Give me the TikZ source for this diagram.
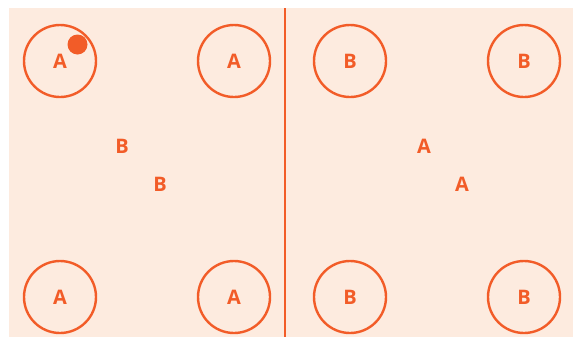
\documentclass[tikz,border=0pt]{standalone}
\usepackage{fontspec}
\setmainfont{Open Sans}
\usetikzlibrary{positioning}
\definecolor{court}{RGB}{253,235,223}
\definecolor{chalk}{RGB}{242,92,40}

\begin{document}
\begin{tikzpicture}[
    x=1pt, y=-1pt,
    every node/.style={font=\fontsize{20}{20}\selectfont\bfseries, text=chalk},
    spot/.style={circle, draw=chalk, line width=2.4pt, minimum size=2*\sr, inner sep=0pt},
  ]
  \def\sr{36pt}

  % court and half line
  \useasboundingbox (0,0) rectangle (573,338);
  \fill[court] (9,8) rectangle (573,337);
  \coordinate (mtop) at (285,8);
  \coordinate (mbot) at (285,337);
  \draw[chalk, line width=2.6pt] (mtop) -- (mbot);

  % left half: team A on the corners
  \node[spot] (a1) at (60,61) {A};
  \node[spot] (a2) at (234,61) {A};
  \node[spot] (a3) at (60,297) {A};
  \node[spot] (a4) at (234,297) {A};
  \node[circle, fill=chalk, minimum size=20pt, inner sep=0pt] (ball) at (77.5,44.5) {};

  \node (b5) at (122,146) {B};
  \node (b6) at (160,184) {B};

  % right half: team B on the corners
  \node[spot] (b1) at (350,61) {B};
  \node[spot] (b2) at (524,61) {B};
  \node[spot] (b3) at (350,297) {B};
  \node[spot] (b4) at (524,297) {B};

  \node (a5) at (424,146) {A};
  \node (a6) at (462,184) {A};
\end{tikzpicture}
\end{document}
